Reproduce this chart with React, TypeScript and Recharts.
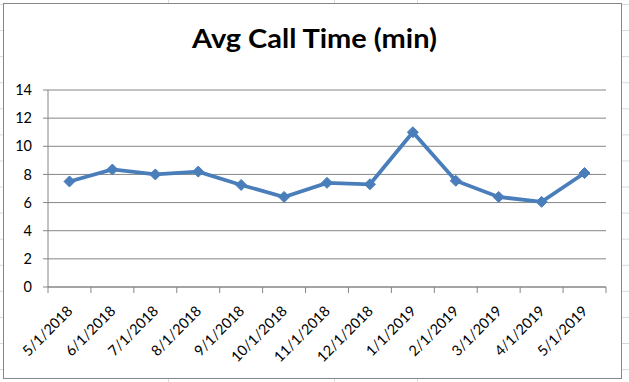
import React from "react";
import {
  LineChart,
  Line,
  XAxis,
  YAxis,
  CartesianGrid,
} from "recharts";

const months = [
  "5/1/2018",
  "6/1/2018",
  "7/1/2018",
  "8/1/2018",
  "9/1/2018",
  "10/1/2018",
  "11/1/2018",
  "12/1/2018",
  "1/1/2019",
  "2/1/2019",
  "3/1/2019",
  "4/1/2019",
  "5/1/2019",
];

const avgCallTime = [7.5, 8.35, 8.0, 8.2, 7.25, 6.4, 7.4, 7.3, 11.0, 7.55, 6.4, 6.05, 8.1];

const yTicks = [0, 2, 4, 6, 8, 10, 12, 14];

const FONT = "Lato, 'Open Sans', sans-serif";
const GRAY = "#868686";
const BLUE = "#4a7ebb";

// each category sits in the middle of its slot, tick marks go on slot boundaries
const data = months.map((m, i) => ({ month: m, pos: i + 0.5, value: avgCallTime[i] }));
const xTicks: number[] = [];
for (let i = 0; i <= months.length * 2; i++) xTicks.push(i / 2);

const XTick = (props: any) => {
  const { x, y, payload } = props;
  const v = payload.value as number;
  if (Number.isInteger(v)) {
    return <line x1={x} y1={y - 6} x2={x} y2={y} stroke={GRAY} strokeWidth={1} />;
  }
  const label = months[Math.floor(v)];
  const ax = x + 4;
  const ay = y + 19;
  return (
    <text
      x={ax}
      y={ay}
      textAnchor="end"
      fontSize={14.5}
      fontFamily={FONT}
      fill="#000"
      transform={`rotate(-45, ${ax}, ${ay})`}
    >
      {label}
    </text>
  );
};

const Diamond = (props: any) => {
  const { cx, cy, index } = props;
  if (cx == null || cy == null) return null;
  const r = 5.5;
  return (
    <polygon
      key={`d-${index}`}
      points={`${cx},${cy - r} ${cx + r},${cy} ${cx},${cy + r} ${cx - r},${cy}`}
      fill={BLUE}
      stroke={BLUE}
      strokeWidth={1}
    />
  );
};

export default function App() {
  return (
    <div
      style={{
        position: "absolute",
        left: 0,
        top: 0,
        width: 629,
        height: 382,
        background: "#fff",
        backgroundImage:
          "linear-gradient(to right, #d9d9d9 1px, transparent 1px), linear-gradient(to bottom, #d9d9d9 1px, transparent 1px)",
        backgroundSize: "83px 26.08px",
        backgroundPosition: "2px 4px",
        overflow: "hidden",
      }}
    >
      <div
        style={{
          position: "absolute",
          left: 3,
          top: 3,
          width: 617,
          height: 374,
          border: `1px solid ${GRAY}`,
          background: "#fff",
        }}
      >
        <LineChart
          width={617}
          height={374}
          data={data}
          margin={{ top: 86, right: 15, left: 0, bottom: 0 }}
        >
          <CartesianGrid vertical={false} stroke={GRAY} strokeWidth={1} />
          <XAxis
            dataKey="pos"
            type="number"
            domain={[0, months.length]}
            ticks={xTicks}
            interval={0}
            height={91}
            tickLine={false}
            tickSize={6}
            tickMargin={0}
            axisLine={{ stroke: GRAY }}
            tick={<XTick />}
          />
          <YAxis
            domain={[0, 14]}
            ticks={yTicks}
            interval={0}
            width={44}
            tickSize={5}
            tickMargin={11}
            tickLine={{ stroke: GRAY }}
            axisLine={{ stroke: GRAY }}
            tick={{ fontSize: 14.5, fontFamily: FONT, fill: "#000" }}
          />
          <Line
            type="linear"
            dataKey="value"
            stroke={BLUE}
            strokeWidth={3.75}
            dot={<Diamond />}
            activeDot={false}
            isAnimationActive={false}
          />
        </LineChart>
      </div>
      <svg
        width={629}
        height={382}
        style={{ position: "absolute", left: 0, top: 0, pointerEvents: "none" }}
      >
        <text
          x={314.5}
          y={47.5}
          textAnchor="middle"
          fontSize={27}
          fontWeight="bold"
          fontFamily={FONT}
          fill="#000"
          textLength={245}
          lengthAdjust="spacingAndGlyphs"
        >
          Avg Call Time (min)
        </text>
      </svg>
    </div>
  );
}
